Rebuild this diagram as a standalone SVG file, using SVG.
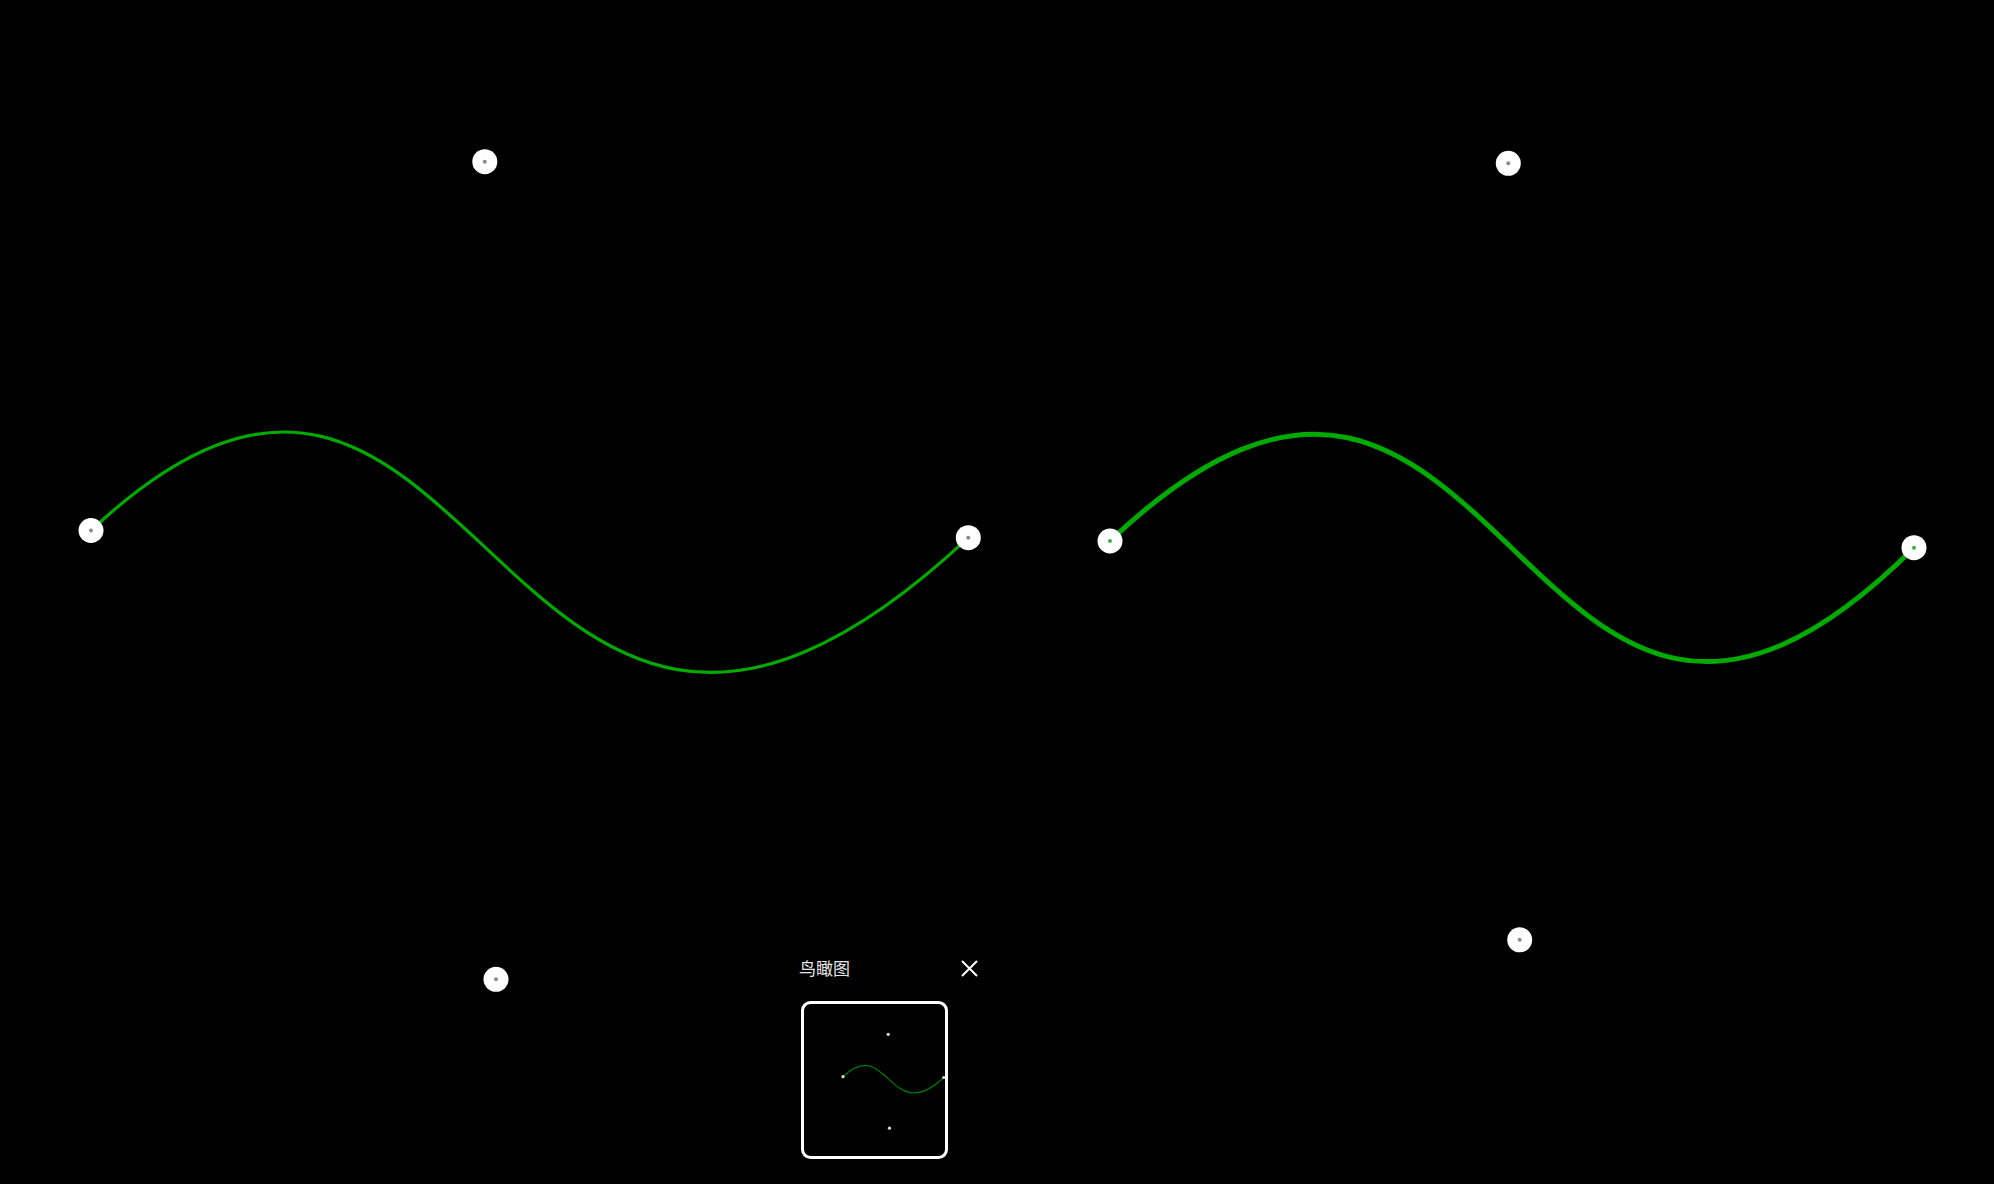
<svg xmlns="http://www.w3.org/2000/svg" width="1994" height="1184" viewBox="0 0 1994 1184">
<defs>
<style>
.node{fill:#ffffff;}
.core{fill:#8a8a8a;}
.gcore{fill:#3cb043;}
.link{fill:none;stroke:#00aa00;}
.title{font-family:"Noto Sans CJK SC","Noto Sans",sans-serif;font-size:17px;fill:#e6e6e6;}
</style>
</defs>
<rect x="0" y="0" width="1994" height="1184" fill="#000000"/>
<g id="connectors">
<path class="link" stroke-width="3.2" d="M91,530.5 C484.8,161.7 496,979.3 968.3,537.7"/>
<path class="link" stroke-width="5" d="M1110,541 C1508.3,163.3 1519.7,939.8 1914,547.7"/>
</g>
<g id="node-l-start"><circle class="node" cx="91" cy="530.5" r="12.5"/><circle class="core" cx="91" cy="530.5" r="2"/></g>
<g id="node-l-c1"><circle class="node" cx="484.8" cy="161.7" r="12.5"/><circle class="core" cx="484.8" cy="161.7" r="2"/></g>
<g id="node-l-c2"><circle class="node" cx="496" cy="979.3" r="12.5"/><circle class="core" cx="496" cy="979.3" r="2"/></g>
<g id="node-l-end"><circle class="node" cx="968.3" cy="537.7" r="12.5"/><circle class="core" cx="968.3" cy="537.7" r="2"/></g>
<g id="node-r-start"><circle class="node" cx="1110" cy="541" r="12.5"/><circle class="gcore" cx="1110" cy="541" r="2"/></g>
<g id="node-r-c1"><circle class="node" cx="1508.3" cy="163.3" r="12.5"/><circle class="core" cx="1508.3" cy="163.3" r="2"/></g>
<g id="node-r-c2"><circle class="node" cx="1519.7" cy="939.8" r="12.5"/><circle class="core" cx="1519.7" cy="939.8" r="2"/></g>
<g id="node-r-end"><circle class="node" cx="1914" cy="547.7" r="12.5"/><circle class="gcore" cx="1914" cy="547.7" r="2"/></g>
<g id="minimap">
<text class="title" x="799" y="975">鸟瞰图</text>
<path d="M962,961 L977,976 M977,961 L962,976" stroke="#ffffff" stroke-width="2" fill="none"/>
<rect x="802.5" y="1002.5" width="144" height="155" rx="8" fill="#000000" stroke="#ffffff" stroke-width="3"/>
<g transform="translate(832.55,1015.78) scale(0.1148)">
<path d="M91,530.5 C484.8,161.7 496,979.3 968.3,537.7" fill="none" stroke="#007a00" stroke-width="11"/>
<circle cx="91" cy="530.5" r="14" fill="#dddddd"/>
<circle cx="484.8" cy="161.7" r="14" fill="#dddddd"/>
<circle cx="496" cy="979.3" r="14" fill="#dddddd"/>
<circle cx="968.3" cy="537.7" r="14" fill="#dddddd"/>
</g>
</g>
</svg>
